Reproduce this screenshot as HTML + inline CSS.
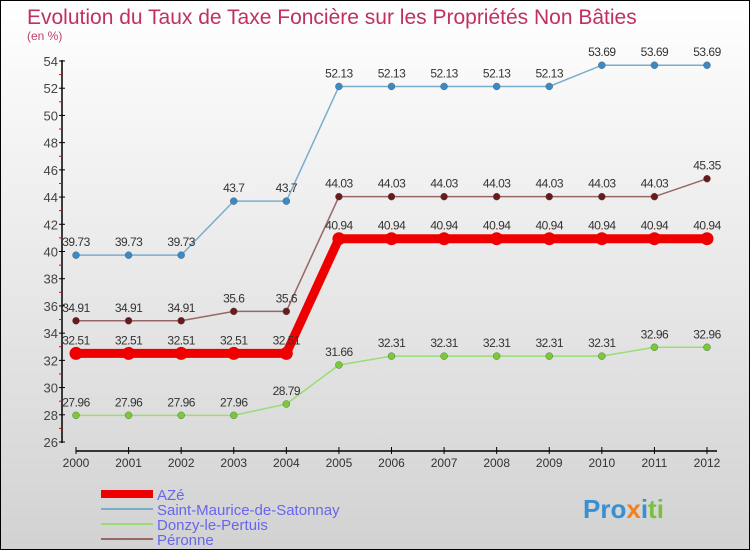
<!DOCTYPE html>
<html><head><meta charset="utf-8"><style>
body{margin:0}
#c{width:750px;height:550px;position:relative;overflow:hidden;background:linear-gradient(#fff,#d2d2d2);font-family:"Liberation Sans",sans-serif;box-sizing:border-box;border:1px solid #000}
</style></head><body>
<div id="c">
<svg width="750" height="550" id="s">
<text x="26" y="23" font-size="21" fill="#c03060">Evolution du Taux de Taxe Foncière sur les Propriétés Non Bâties</text>
<text x="26" y="39" font-size="12" fill="#c04070">(en %)</text>
<g id="ax"></g><g id="ser"></g>
<g>
<rect x="100" y="489" width="52" height="8" fill="#e00"/>
<text x="156" y="499" font-size="15" fill="#6666ee">AZé</text>
<rect x="100" y="507" width="52" height="2" fill="#7aaccc"/>
<text x="156" y="514" font-size="15" fill="#6666ee">Saint-Maurice-de-Satonnay</text>
<rect x="100" y="522" width="52" height="2" fill="#99dd77"/>
<text x="156" y="529" font-size="15" fill="#6666ee">Donzy-le-Pertuis</text>
<rect x="100" y="537" width="52" height="2" fill="#996666"/>
<text x="156" y="544" font-size="15" fill="#6666ee">Péronne</text>
</g>
<text x="582" y="517" font-size="26" font-weight="bold" fill="#3a8fd0">Pro<tspan fill="#f08020">x</tspan>i<tspan fill="#7ac040">ti</tspan></text>
</svg></div>
<script>
const years=[2000,2001,2002,2003,2004,2005,2006,2007,2008,2009,2010,2011,2012];
const yTicks=[26,28,30,32,34,36,38,40,42,44,46,48,50,52,54];
const saint=[39.73,39.73,39.73,43.7,43.7,52.13,52.13,52.13,52.13,52.13,53.69,53.69,53.69];
const peronne=[34.91,34.91,34.91,35.6,35.6,44.03,44.03,44.03,44.03,44.03,44.03,44.03,45.35];
const aze=[32.51,32.51,32.51,32.51,32.51,40.94,40.94,40.94,40.94,40.94,40.94,40.94,40.94];
const donzy=[27.96,27.96,27.96,27.96,28.79,31.66,32.31,32.31,32.31,32.31,32.31,32.96,32.96];
const NS="http://www.w3.org/2000/svg";
const X=i=>75+i*(706-75)/(years.length-1);
const Y=v=>441-(v-26)*(441-60)/28;
function mk(t,a,p){const e=document.createElementNS(NS,t);for(const k in a)e.setAttribute(k,a[k]);p.appendChild(e);return e;}
const ax=document.getElementById('ax');
let l=mk('line',{x1:61,y1:59,x2:61,y2:442,stroke:'#000','stroke-width':1.5},ax);


l=mk('line',{x1:75,y1:450,x2:716,y2:450,stroke:'#000','stroke-width':1.5},ax);


yTicks.forEach(v=>{const y=Y(v);
mk('line',{x1:58,y1:y,x2:64,y2:y,stroke:'#000'},ax);
if(v<54)mk('line',{x1:58,y1:Y(v+1),x2:61,y2:Y(v+1),stroke:'#e00'},ax);
const t=mk('text',{x:57,y:y+5,'font-size':13,fill:'#444','text-anchor':'end'},ax);t.textContent=v;

});
years.forEach((yr,i)=>{const x=X(i);
mk('line',{x1:x,y1:446,x2:x,y2:453,stroke:'#000'},ax);
const t=mk('text',{x:x,y:466,'font-size':12,fill:'#333','text-anchor':'middle'},ax);t.textContent=yr;

});
const ser=document.getElementById('ser');
function draw(name,vals,color,dot,w,r){
const g=mk('g',{},ser);


mk('polyline',{points:vals.map((v,i)=>X(i)+','+Y(v)).join(' '),fill:'none',stroke:color,'stroke-width':w},g);
vals.forEach((v,i)=>{const c=mk('circle',{cx:X(i),cy:Y(v),r:r,fill:dot,stroke:color==='#e00'?'none':'#555','stroke-width':0.4},g);


const t=mk('text',{x:X(i),y:Y(v)-9,'font-size':12,fill:'#333','text-anchor':'middle','letter-spacing':'-0.5'},g);
t.textContent=String(v).replace(/\./,'.');

});}
draw('saint-maurice',saint,'#7aaccc','#3a8ac8',1.5,3.5);
draw('peronne',peronne,'#996666','#6a1a1a',1.5,3.5);
draw('donzy',donzy,'#99dd77','#77cc33',1.5,3.5);
draw('aze',aze,'#e00','#e00',9,6.5);
</script>
</body></html>
